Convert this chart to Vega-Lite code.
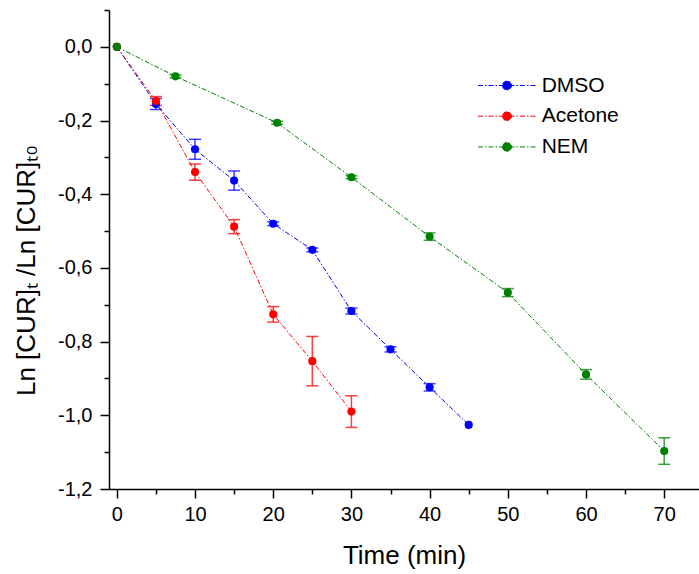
{
  "$schema": "https://vega.github.io/schema/vega-lite/v6.json",
  "width": 590,
  "height": 479,
  "autosize": "none",
  "padding": {"left": 109, "top": 10, "right": 0, "bottom": 85},
  "background": "white",
  "config": {
    "view": {"stroke": null},
    "font": "Liberation Sans",
    "axis": {
      "domainColor": "black", "domainWidth": 1.5,
      "tickColor": "black", "tickWidth": 1.5,
      "labelColor": "black", "titleColor": "black",
      "labelFont": "Liberation Sans", "titleFont": "Liberation Sans",
      "labelFontSize": 20, "titleFontSize": 26, "titleFontWeight": "normal",
      "grid": false
    }
  },
  "data": {
    "values": [
      {"series": "DMSO", "x": 0, "y": 0, "err": 0},
      {"series": "DMSO", "x": 5, "y": -0.155, "err": 0.015},
      {"series": "DMSO", "x": 10, "y": -0.278, "err": 0.027},
      {"series": "DMSO", "x": 15, "y": -0.363, "err": 0.026},
      {"series": "DMSO", "x": 20, "y": -0.48, "err": 0.005},
      {"series": "DMSO", "x": 25, "y": -0.551, "err": 0.005},
      {"series": "DMSO", "x": 30, "y": -0.717, "err": 0.008},
      {"series": "DMSO", "x": 35, "y": -0.821, "err": 0.007},
      {"series": "DMSO", "x": 40, "y": -0.924, "err": 0.01},
      {"series": "DMSO", "x": 45, "y": -1.026, "err": 0},
      {"series": "Acetone", "x": 0, "y": 0, "err": 0},
      {"series": "Acetone", "x": 5, "y": -0.147, "err": 0.012},
      {"series": "Acetone", "x": 10, "y": -0.34, "err": 0.022},
      {"series": "Acetone", "x": 15, "y": -0.488, "err": 0.019},
      {"series": "Acetone", "x": 20, "y": -0.726, "err": 0.021},
      {"series": "Acetone", "x": 25, "y": -0.853, "err": 0.067},
      {"series": "Acetone", "x": 30, "y": -0.99, "err": 0.043},
      {"series": "NEM", "x": 0, "y": 0, "err": 0},
      {"series": "NEM", "x": 7.5, "y": -0.08, "err": 0.004},
      {"series": "NEM", "x": 20.5, "y": -0.206, "err": 0.004},
      {"series": "NEM", "x": 30, "y": -0.354, "err": 0.004},
      {"series": "NEM", "x": 40, "y": -0.515, "err": 0.01},
      {"series": "NEM", "x": 50, "y": -0.667, "err": 0.011},
      {"series": "NEM", "x": 60, "y": -0.889, "err": 0.013},
      {"series": "NEM", "x": 70, "y": -1.097, "err": 0.036}
    ]
  },
  "encoding": {
    "x": {
      "field": "x", "type": "quantitative",
      "scale": {"domain": [-1, 74.45], "nice": false, "zero": false},
      "axis": {
        "title": "Time (min)",
        "values": [0, 5, 10, 15, 20, 25, 30, 35, 40, 45, 50, 55, 60, 65, 70],
        "labelExpr": "datum.value % 10 === 0 ? datum.label : ''",
        "tickSize": {"condition": {"test": "datum.value % 10 === 0", "value": 9}, "value": 5},
        "labelPadding": 6,
        "titleY": 74, "titleBaseline": "alphabetic"
      }
    },
    "y": {
      "field": "y", "type": "quantitative",
      "scale": {"domain": [-1.2, 0.1], "nice": false, "zero": false},
      "axis": {
        "title": "Ln [CUR]ₜ /Ln [CUR]ₜ₀",
        "values": [0.1, 0, -0.1, -0.2, -0.3, -0.4, -0.5, -0.6, -0.7, -0.8, -0.9, -1, -1.1, -1.2],
        "labelExpr": "abs(round(datum.value*10)) % 2 === 0 ? replace(replace(format(datum.value, '.1f'), '.', ','), '\u2212', '-') : ''",
        "tickSize": {"condition": {"test": "abs(round(datum.value*10)) % 2 === 0", "value": 9}, "value": 5},
        "labelPadding": 8,
        "titleX": -70, "titleY": 260
      }
    },
    "color": {
      "field": "series", "type": "nominal",
      "scale": {"domain": ["DMSO", "Acetone", "NEM"], "range": ["#0000ff", "#ff0000", "#008000"]},
      "legend": {
        "orient": "none", "legendX": 387.5, "legendY": 65,
        "title": null, "padding": 0,
        "labelFontSize": 21, "labelFont": "Liberation Sans", "labelColor": "black",
        "symbolType": "M-4,0L4,0M-0.62,0A0.62,0.62 0 1,0 0.62,0A0.62,0.62 0 1,0 -0.62,0Z",
        "symbolSize": 210, "symbolStrokeWidth": 1, "symbolDash": [5, 2, 1.5, 2],
        "rowPadding": 8.7, "labelOffset": 24.2,
        "encode": {"symbols": {"update": {
          "fill": {"scale": "color", "field": "value"},
          "stroke": {"scale": "color", "field": "value"},
          "opacity": {"value": 1}
        }}}
      }
    }
  },
  "layer": [
    {"mark": {"type": "line", "strokeWidth": 1, "strokeDash": [5, 2, 1.5, 2]}},
    {
      "transform": [{"filter": "datum.err > 0"}],
      "mark": {"type": "errorbar", "ticks": {"size": 12, "thickness": 1.5}, "rule": {"strokeWidth": 1.5}, "opacity": 0.75},
      "encoding": {"yError": {"field": "err"}}
    },
    {"mark": {"type": "point", "filled": true, "size": 66, "opacity": 1}}
  ]
}
